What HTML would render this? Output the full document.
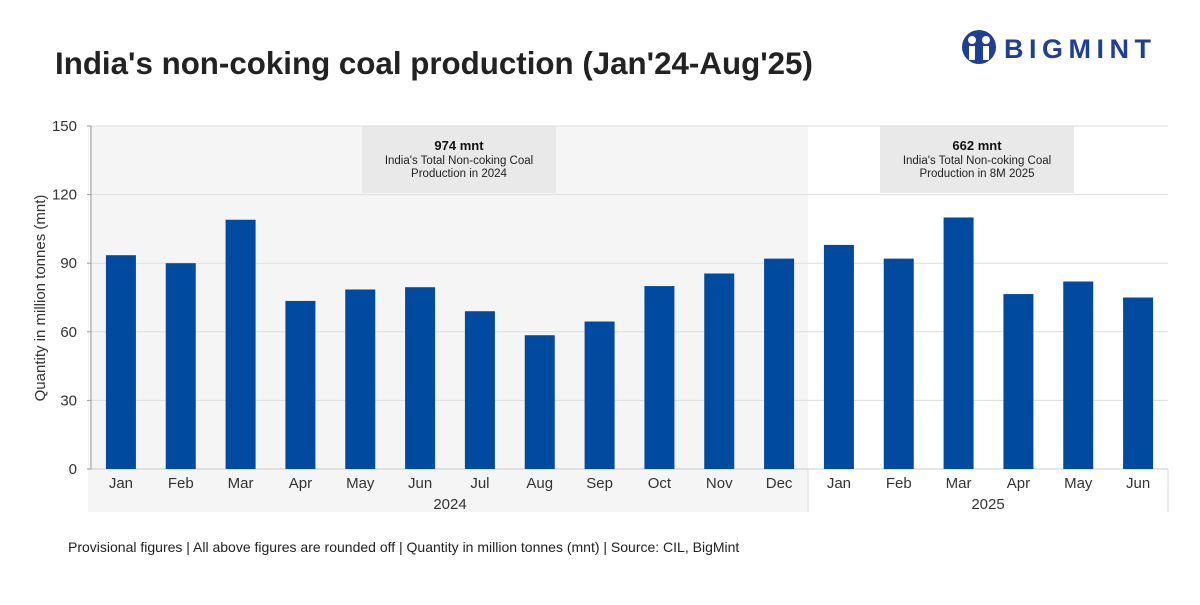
<!DOCTYPE html>
<html><head><meta charset="utf-8"><style>
body{margin:0;background:#fff;font-family:"Liberation Sans",sans-serif}
svg text{font-family:"Liberation Sans",sans-serif}
</style></head><body>
<svg width="1200" height="600">
<rect width="1200" height="600" fill="#fff"/>
<text x="55" y="74" font-size="31.3" font-weight="bold" fill="#222">India's non-coking coal production (Jan'24-Aug'25)</text>
<g>
<circle cx="979" cy="47" r="17" fill="#1f3f95"/>
<circle cx="972" cy="40" r="4" fill="#fff"/><circle cx="986" cy="40" r="4" fill="#fff"/>
<rect x="969" y="46" width="6" height="14" fill="#fff"/><rect x="983" y="46" width="6" height="14" fill="#fff"/>
<text x="1004" y="58" font-size="27" font-weight="bold" fill="#1f3f95" letter-spacing="5.5">BIGMINT</text>
</g>
<rect x="88" y="126" width="720" height="386" fill="#f5f5f5"/>
<rect x="362" y="126" width="194" height="67" fill="#e9e9e9"/>
<text x="459" y="150" text-anchor="middle" font-size="13" font-weight="bold" fill="#111">974 mnt</text>
<text x="459" y="164" text-anchor="middle" font-size="11.5" fill="#222">India's Total Non-coking Coal</text>
<text x="459" y="177" text-anchor="middle" font-size="11.5" fill="#222">Production in 2024</text>
<rect x="880" y="126" width="194" height="67" fill="#e9e9e9"/>
<text x="977" y="150" text-anchor="middle" font-size="13" font-weight="bold" fill="#111">662 mnt</text>
<text x="977" y="164" text-anchor="middle" font-size="11.5" fill="#222">India's Total Non-coking Coal</text>
<text x="977" y="177" text-anchor="middle" font-size="11.5" fill="#222">Production in 8M 2025</text>
<g id="grid"></g><g id="bars"></g><g id="xl"></g>
<line x1="808" y1="469" x2="808" y2="512" stroke="#ddd"/>
<line x1="1168" y1="469" x2="1168" y2="512" stroke="#ddd"/>
<text x="450" y="509" text-anchor="middle" font-size="15" fill="#333">2024</text>
<text x="988" y="509" text-anchor="middle" font-size="15" fill="#333">2025</text>
<text transform="translate(45,298) rotate(-90)" text-anchor="middle" font-size="15" fill="#333">Quantity in million tonnes (mnt)</text>
<text x="68" y="552" font-size="14" fill="#222">Provisional figures | All above figures are rounded off | Quantity in million tonnes (mnt) | Source: CIL, BigMint</text>
</svg>
<script>
const categories=["Jan","Feb","Mar","Apr","May","Jun","Jul","Aug","Sep","Oct","Nov","Dec","Jan","Feb","Mar","Apr","May","Jun"];
const values=[93.5,90,109,73.5,78.5,79.5,69,58.5,64.5,80,85.5,92,98,92,110,76.5,82,75];
const yTicks=[0,30,60,90,120,150];
const ns="http://www.w3.org/2000/svg";
const x0=91,x1=1168,y0=469,y1=126,yMax=150;
const bw=(x1-x0)/categories.length;
const y=v=>y0-(v/yMax)*(y0-y1);
function mk(t,a,p){const e=document.createElementNS(ns,t);for(const k in a)e.setAttribute(k,a[k]);p.appendChild(e);return e;}
const g=document.getElementById('grid');
yTicks.forEach(t=>{
 const l=mk('line',{x1:x0,x2:x1,y1:y(t),y2:y(t),stroke:t===0?'#ccc':'#ddd'},g);
 
 
 const tx=mk('text',{x:x0-14,y:y(t)+5,'text-anchor':'end','font-size':15,fill:'#333'},g);tx.textContent=t;
 
 
 mk('line',{x1:x0-4,x2:x0,y1:y(t),y2:y(t),stroke:'#999'},g);
});
mk('line',{x1:x0,x2:x0,y1:y1,y2:y0,stroke:'#999'},g);
const b=document.getElementById('bars'),xl=document.getElementById('xl');
values.forEach((v,i)=>{
 const cx=x0+bw*(i+0.5);
 const r=mk('rect',{x:cx-15,y:y(v),width:30,height:y0-y(v),fill:'#004aa0'},b);
 
 
 const t=mk('text',{x:cx,y:488,'text-anchor':'middle','font-size':15,fill:'#333'},xl);t.textContent=categories[i];
 
 
});
</script>
</body></html>
